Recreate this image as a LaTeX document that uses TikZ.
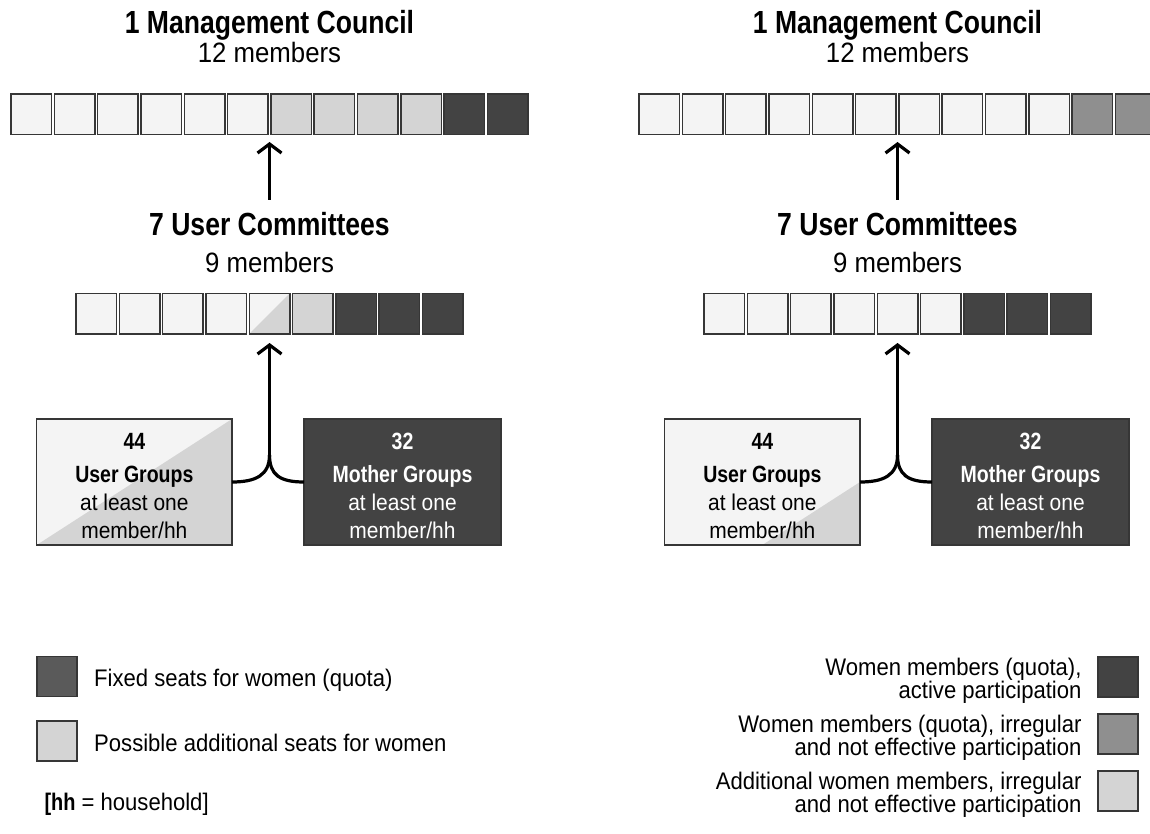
\documentclass[tikz,border=0pt]{standalone}
\usepackage{fontspec}
\setmainfont{Liberation Sans}[FakeStretch=0.92,BoldFeatures={FakeStretch=0.83}]
\usetikzlibrary{arrows.meta}
\definecolor{lite}{HTML}{F4F4F4}
\definecolor{midg}{HTML}{D4D4D4}
\definecolor{dark}{HTML}{434343}
\definecolor{grayq}{HTML}{8F8F8F}
\definecolor{legdark}{HTML}{5A5A5A}
\definecolor{edge}{HTML}{363636}
\newcommand\titlefont{\bfseries\fontsize{32}{32}\selectfont}
\newcommand\subfont{\fontsize{28}{28}\selectfont}
\newcommand\boxfont{\fontsize{22.8}{28}\selectfont}
\newcommand\boxbold{\bfseries\fontsize{23.5}{28}\selectfont}
\newcommand\legfont{\fontsize{24}{22}\selectfont}
\tikzset{
  seat/.style={draw=edge,line width=1.5pt,minimum size=40.5pt,inner sep=0pt,outer sep=0pt},
  seatL/.style={seat,fill=lite},
  seatM/.style={seat,fill=midg},
  seatD/.style={seat,fill=dark},
  seatG/.style={seat,fill=grayq},
  seatS/.style={seat,fill=lite,path picture={\fill[midg] (path picture bounding box.south west) -- (path picture bounding box.south east) -- (path picture bounding box.north east) -- cycle;}},
  grpbox/.style={draw=edge,line width=1.5pt,minimum height=126pt,inner sep=0pt,outer sep=0pt},
  grptext/.style={align=center,font=\boxfont,inner sep=0pt},
  conn/.style={line width=3.2pt,draw=black},
  arr/.style={conn,-{Straight Barb[length=9pt,width=24pt]}},
  legsq/.style={draw=edge,line width=1.5pt,minimum size=40pt,inner sep=0pt,outer sep=0pt},
}
% #1 row-1 styles, #2 row-2 styles, #3 triangle of user box
\newcommand\drawpanel[3]{%
  \node[anchor=base,font=\titlefont] (mc) at (269.5,34) {1 Management Council};
  \node[anchor=base,font=\subfont] (mcn) at (269.5,63) {12 members};
  \foreach \s [count=\i] in {#1} {\node[\s] (a\i) at ({269.5+(\i-6.5)*43.3},114.25) {};}
  \coordinate (up1) at (269.5,142);
  \coordinate (lo1) at (269.5,200);
  \draw[arr] (lo1) -- (up1);
  \node[anchor=base,font=\titlefont] (uc) at (269.5,236) {7 User Committees};
  \node[anchor=base,font=\subfont] (ucn) at (269.5,272) {9 members};
  \foreach \s [count=\i] in {#2} {\node[\s] (b\i) at ({269.5+(\i-5)*43.3},313.5) {};}
  \node[grpbox,minimum width=195.3pt,fill=lite,path picture={#3}] (ug) at (134.35,482) {};
  \node[grptext] (ugt) at (134.35,486)
    {{\boxbold 44}\\[5pt]{\boxbold User Groups}\\at least one\\member/hh};
  \node[grpbox,minimum width=197pt,fill=dark] (mg) at (402.5,482) {};
  \node[grptext,text=white] (mgt) at (402.5,486)
    {{\boxbold 32}\\[5pt]{\boxbold Mother Groups}\\at least one\\member/hh};
  \coordinate (j) at (269.5,455);
  \coordinate (up2) at (269.5,343);
  \draw[conn] (ug.east) .. controls +(24,0) and +(0,20) .. (j);
  \draw[conn] (mg.west) .. controls +(-24,0) and +(0,20) .. (j);
  \draw[arr] (j) -- (up2);
}
\begin{document}
\begin{tikzpicture}[x=1pt,y=-1pt]
\useasboundingbox[fill=white] (0,0) rectangle (1150,834);
\begin{scope}[name prefix=L-]
\drawpanel{seatL,seatL,seatL,seatL,seatL,seatL,seatM,seatM,seatM,seatM,seatD,seatD}
          {seatL,seatL,seatL,seatL,seatS,seatM,seatD,seatD,seatD}
          {\fill[midg] (path picture bounding box.south west) -- (path picture bounding box.south east) -- (path picture bounding box.north east) -- cycle;}
\end{scope}
\begin{scope}[xshift=628pt,name prefix=R-]
\drawpanel{seatL,seatL,seatL,seatL,seatL,seatL,seatL,seatL,seatL,seatL,seatG,seatG}
          {seatL,seatL,seatL,seatL,seatL,seatL,seatD,seatD,seatD}
          {\fill[midg] (path picture bounding box.south) -- (path picture bounding box.south east) -- (path picture bounding box.east) -- cycle;}
\end{scope}
% left legend
\node[legsq,fill=legdark] (k1) at (57,676.7) {};
\node[legsq,fill=midg] (k2) at (57,741.2) {};
\node[anchor=base west,font=\legfont] (k1t) at (90.7,686.7) {Fixed seats for women (quota)};
\node[anchor=base west,font=\legfont] (k2t) at (90.7,751) {Possible additional seats for women};
\node[anchor=base west,font=\legfont] (hh) at (41,810) {\textbf{[hh} = household]};
% right legend
\node[legsq,fill=dark] (q1) at (1118,677) {};
\node[legsq,fill=grayq] (q2) at (1118,734) {};
\node[legsq,fill=midg] (q3) at (1118,791) {};
\node[anchor=east,align=right,font=\legfont] (q1t) at (1085,681) {Women members (quota),\\active participation};
\node[anchor=east,align=right,font=\legfont] (q2t) at (1085,738) {Women members (quota), irregular\\and not effective participation};
\node[anchor=east,align=right,font=\legfont] (q3t) at (1085,795) {Additional women members, irregular\\and not effective participation};
\end{tikzpicture}
\end{document}
